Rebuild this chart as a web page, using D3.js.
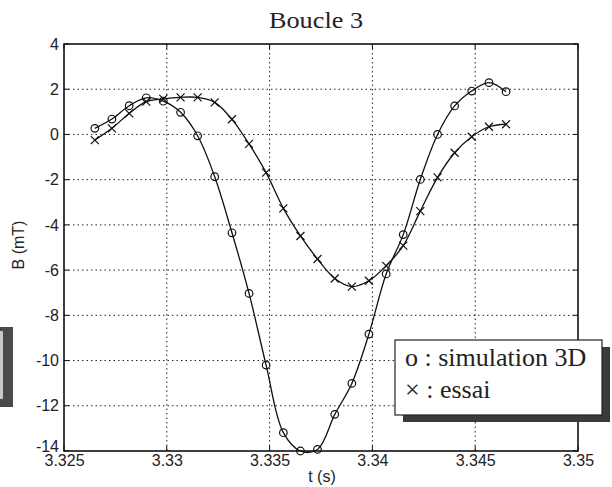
<!DOCTYPE html>
<html>
<head>
<meta charset="utf-8">
<script src="https://cdn.jsdelivr.net/npm/d3@7"></script>
<style>
  html, body { margin: 0; padding: 0; background: #fff; }
  svg { display: block; }
</style>
</head>
<body>
<svg id="chart" width="612" height="487"></svg>
<script>
// ---- data ----
const tValues = [3.3265, 3.32733, 3.32817, 3.329, 3.32983, 3.33067, 3.3315, 3.33233, 3.33317, 3.334,
                 3.33483, 3.33567, 3.3365, 3.33733, 3.33817, 3.339, 3.33983, 3.34067, 3.3415, 3.34233,
                 3.34317, 3.344, 3.34483, 3.34567, 3.3465];
const simulation3D = [0.27, 0.68, 1.27, 1.62, 1.47, 0.98, -0.06, -1.87, -4.35, -7.03,
                      -10.2, -13.19, -14.0, -13.93, -12.38, -11.01, -8.83, -6.17, -4.43, -1.99,
                      0.0, 1.26, 1.92, 2.29, 1.89];
const essai = [-0.25, 0.27, 0.93, 1.45, 1.57, 1.64, 1.64, 1.42, 0.67, -0.42,
               -1.69, -3.27, -4.49, -5.51, -6.37, -6.73, -6.47, -5.81, -4.92, -3.39,
               -1.9, -0.81, -0.1, 0.34, 0.45];
const xTicks = [3.325, 3.33, 3.335, 3.34, 3.345, 3.35];
const xTickLabels = ["3.325", "3.33", "3.335", "3.34", "3.345", "3.35"];
const yTicks = [4, 2, 0, -2, -4, -6, -8, -10, -12, -14];
const yTickLabels = ["4", "2", "0", "-2", "-4", "-6", "-8", "-10", "-12", "-14"];
const legendLabels = ["o : simulation 3D", "\u00d7 : essai"];

// ---- layout ----
const svg = d3.select("#chart");
const L = 64, R = 578, T = 44, B = 451;
const x = d3.scaleLinear().domain([3.325, 3.35]).range([L, R]);
const y = d3.scaleLinear().domain([-14, 4]).range([B, T]);

svg.append("rect").attr("width", 612).attr("height", 487).attr("fill", "#fff");

// scan artefact at left edge (shadowed box of neighbouring figure)
svg.append("rect").attr("x", 0).attr("y", 327).attr("width", 13).attr("height", 80).attr("fill", "#4a4a4a");
svg.append("rect").attr("x", 0).attr("y", 331).attr("width", 3).attr("height", 68).attr("fill", "#c8c8c8");

// grid
const grid = svg.append("g").attr("stroke", "#222").attr("stroke-width", 1).attr("stroke-dasharray", "1.5,3");
grid.selectAll(".gx").data(xTicks.slice(1, -1)).enter().append("line")
  .attr("x1", d => x(d)).attr("x2", d => x(d)).attr("y1", T).attr("y2", B);
grid.selectAll(".gy").data(yTicks.slice(1, -1)).enter().append("line")
  .attr("x1", L).attr("x2", R).attr("y1", d => y(d)).attr("y2", d => y(d));

// axes (labels)
const fontSans = "'Liberation Sans', Arial, sans-serif";
const xAxis = svg.append("g").attr("transform", `translate(0,${B})`)
  .call(d3.axisBottom(x).tickValues(xTicks).tickFormat((d, i) => xTickLabels[i]).tickSize(0).tickPadding(4));
const yAxis = svg.append("g").attr("transform", `translate(${L},0)`)
  .call(d3.axisLeft(y).tickValues(yTicks).tickFormat((d, i) => yTickLabels[i]).tickSize(0).tickPadding(5));
[xAxis, yAxis].forEach(a => {
  a.select(".domain").remove();
  a.selectAll("text").attr("font-family", fontSans).attr("font-size", 16).attr("fill", "#222");
});
// lift the bottom y label a little so it clears the first x label (as in the reference)
yAxis.selectAll(".tick").filter(d => d === -14).select("text").attr("y", -5);

// inward ticks on all sides
const tk = svg.append("g").attr("stroke", "#111").attr("stroke-width", 1);
xTicks.forEach(d => {
  tk.append("line").attr("x1", x(d)).attr("x2", x(d)).attr("y1", B).attr("y2", B - 5);
  tk.append("line").attr("x1", x(d)).attr("x2", x(d)).attr("y1", T).attr("y2", T + 5);
});
yTicks.forEach(d => {
  tk.append("line").attr("x1", L).attr("x2", L + 5).attr("y1", y(d)).attr("y2", y(d));
  tk.append("line").attr("x1", R).attr("x2", R - 5).attr("y1", y(d)).attr("y2", y(d));
});

// frame
svg.append("rect").attr("x", L).attr("y", T).attr("width", R - L).attr("height", B - T)
  .attr("fill", "none").attr("stroke", "#111").attr("stroke-width", 1.6);

// lines
const line = d3.line().x((d, i) => x(tValues[i])).y(d => y(d)).curve(d3.curveCatmullRom.alpha(0.5));
svg.append("path").datum(simulation3D).attr("d", line).attr("fill", "none").attr("stroke", "#111").attr("stroke-width", 1.3);
svg.append("path").datum(essai).attr("d", line).attr("fill", "none").attr("stroke", "#111").attr("stroke-width", 1.3);

// markers
svg.append("g").selectAll("circle").data(simulation3D).enter().append("circle")
  .attr("cx", (d, i) => x(tValues[i])).attr("cy", d => y(d)).attr("r", 3.8)
  .attr("fill", "none").attr("stroke", "#111").attr("stroke-width", 1.2);
const cr = 4;
svg.append("g").selectAll("path").data(essai).enter().append("path")
  .attr("d", (d, i) => {
    const cx = x(tValues[i]), cy = y(d);
    return `M${cx - cr},${cy - cr}L${cx + cr},${cy + cr}M${cx - cr},${cy + cr}L${cx + cr},${cy - cr}`;
  })
  .attr("stroke", "#111").attr("stroke-width", 1.2).attr("fill", "none");

// title & axis labels
svg.append("text").attr("x", 316).attr("y", 28).attr("text-anchor", "middle")
  .attr("font-family", "'Liberation Serif', 'Times New Roman', serif").attr("font-size", 24).attr("fill", "#222")
  .attr("textLength", 94).attr("lengthAdjust", "spacingAndGlyphs")
  .text("Boucle 3");
svg.append("text").attr("x", 322).attr("y", 482).attr("text-anchor", "middle")
  .attr("font-family", fontSans).attr("font-size", 16).attr("fill", "#222").text("t (s)");
svg.append("text").attr("transform", "translate(24,245) rotate(-90)").attr("text-anchor", "middle")
  .attr("font-family", fontSans).attr("font-size", 16).attr("fill", "#222").text("B (mT)");

// legend box with shadow
const lg = svg.append("g");
lg.append("rect").attr("x", 403).attr("y", 347).attr("width", 207).attr("height", 75).attr("fill", "#3a3a3a");
lg.append("rect").attr("x", 395).attr("y", 340).attr("width", 207).attr("height", 75)
  .attr("fill", "#fff").attr("stroke", "#222").attr("stroke-width", 1.2);
lg.selectAll("text").data(legendLabels).enter().append("text")
  .attr("x", 405).attr("y", (d, i) => 366 + i * 32)
  .attr("font-family", "'Liberation Serif', 'Times New Roman', serif").attr("font-size", 26).attr("fill", "#222")
  .text(d => d);
</script>
</body>
</html>
